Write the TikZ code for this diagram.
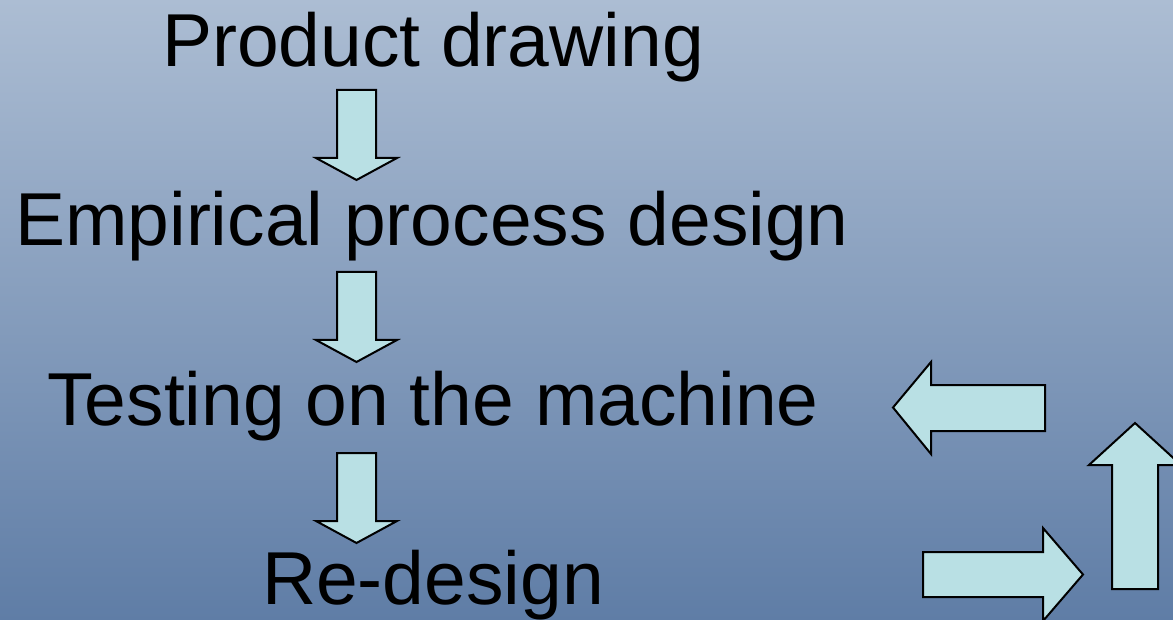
\documentclass[tikz,border=0pt]{standalone}
\usepackage{fontspec}
\setmainfont{Liberation Sans}
\definecolor{bgtop}{RGB}{172,189,211}
\definecolor{bgbot}{RGB}{95,125,166}
\definecolor{arrowfill}{RGB}{185,224,228}
\tikzset{
  blockarrow/.style={draw=black, fill=arrowfill, line width=2pt, line join=miter},
  label/.style={anchor=base, inner sep=0pt, font=\fontsize{75}{80}\selectfont, text=black}
}
\begin{document}
\begin{tikzpicture}[x=1pt, y=-1pt]
\useasboundingbox (0,0) rectangle (1173,620);
\shade[top color=bgtop, bottom color=bgbot] (0,0) rectangle (1173,620);

\node[label] (product) at (433,67) {Product drawing};
\node[label] (empirical) at (432,246) {Empirical process design};
\node[label] (testing) at (433,425) {Testing on the machine};
\node[label] (redesign) at (433,604) {Re-design};

% down arrows
\foreach \y in {90,272,453} {
  \draw[blockarrow] (337,\y) -- (376,\y) -- (376,\y+68) -- (397,\y+68) -- (356.5,\y+90)
    -- (316,\y+68) -- (337,\y+68) -- cycle;
}

% left arrow
\draw[blockarrow] (1045,385) -- (931,385) -- (931,362) -- (893,407.5) -- (931,454)
  -- (931,431) -- (1045,431) -- cycle;
% right arrow
\draw[blockarrow] (923,552) -- (1043,552) -- (1043,528) -- (1083,574.5) -- (1043,621)
  -- (1043,597) -- (923,597) -- cycle;
% up arrow
\draw[blockarrow] (1112,589) -- (1112,465) -- (1089,465) -- (1135,423) -- (1181,465)
  -- (1158,465) -- (1158,589) -- cycle;
\end{tikzpicture}
\end{document}
